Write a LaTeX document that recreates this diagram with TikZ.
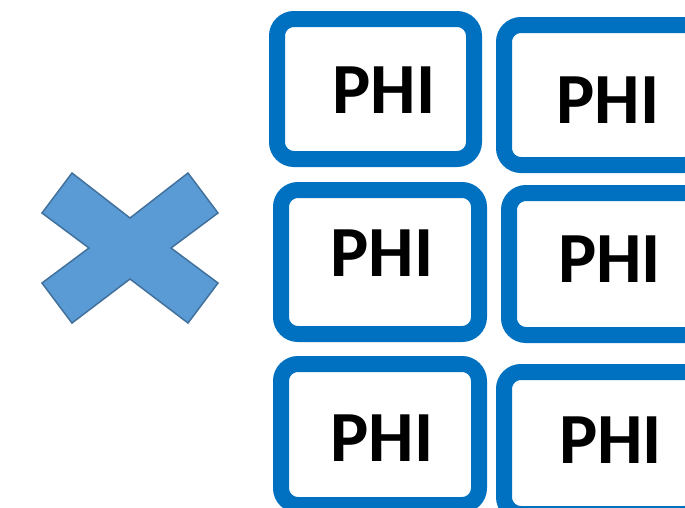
\documentclass[tikz,border=0pt]{standalone}
\usepackage{fontspec}
\setmainfont{Carlito}
\definecolor{boxblue}{HTML}{0070C0}
\definecolor{xfill}{HTML}{5B9BD5}
\definecolor{xline}{HTML}{41719C}
\begin{document}
\begin{tikzpicture}[x=1pt,y=-1pt,
  phibox/.style={draw=boxblue, line width=16pt, rounded corners=17pt, fill=white,
    inner sep=0pt, outer sep=0pt, rectangle},
  phitext/.style={anchor=base, inner sep=0pt, font=\bfseries\fontsize{72}{72}\selectfont}]
\useasboundingbox (0,0) rectangle (685,507);
\clip (0,0) rectangle (685,507);
\fill[white] (0,0) rectangle (685,507);
% cross shape
\draw[fill=xfill, draw=xline, line width=1.5pt, line join=miter]
  (72,173) -- (130,218) -- (188,173) -- (218,213) -- (171,248) -- (218,283)
  -- (188,323) -- (130,279) -- (72,323) -- (42,283) -- (89,248) -- (42,213) -- cycle;
% boxes
\node[phibox, minimum width=197pt, minimum height=140pt] (b1) at (375.5,89) {};
\node[phibox, minimum width=197pt, minimum height=140pt] (b2) at (602.5,95) {};
\node[phibox, minimum width=198pt, minimum height=144pt] (b3) at (380,262) {};
\node[phibox, minimum width=198pt, minimum height=142pt] (b4) at (608,264) {};
\node[phibox, minimum width=198pt, minimum height=141pt] (b5) at (380,434.5) {};
\node[phibox, minimum width=197pt, minimum height=142pt] (b6) at (602.5,443) {};
% labels
\node[phitext] (t1) at (384,113) {PHI};
\node[phitext] (t2) at (608,123) {PHI};
\node[phitext] (t3) at (382,276) {PHI};
\node[phitext] (t4) at (609.5,282) {PHI};
\node[phitext] (t5) at (382,461) {PHI};
\node[phitext] (t6) at (610.5,463) {PHI};
\end{tikzpicture}
\end{document}
